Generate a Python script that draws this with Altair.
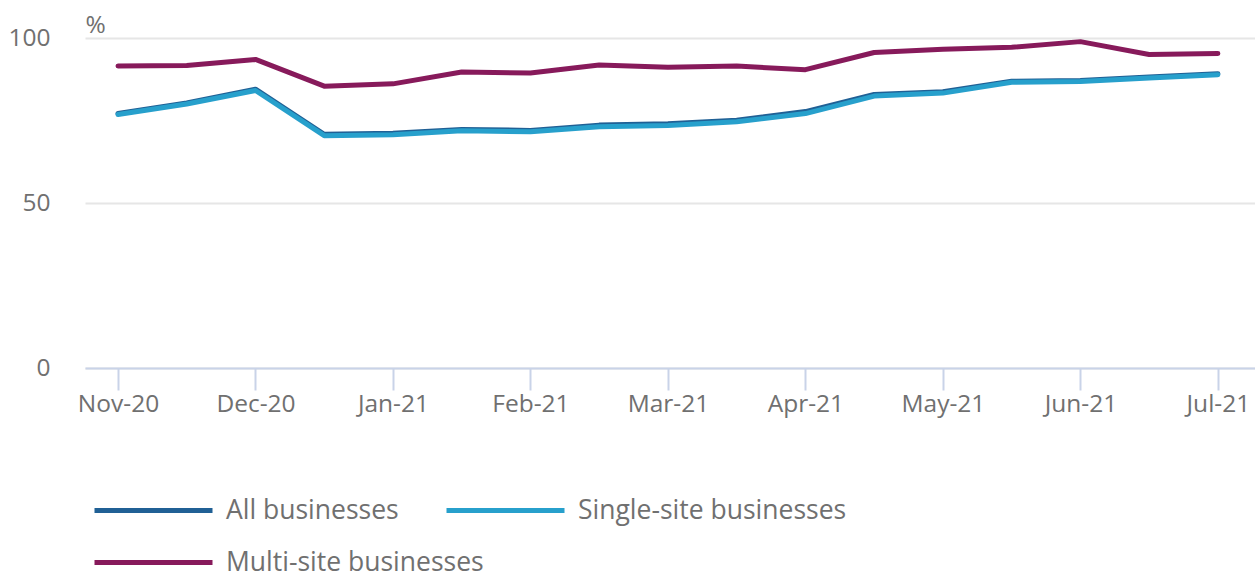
import altair as alt
import pandas as pd

tick_labels = ["Nov-20", "Dec-20", "Jan-21", "Feb-21", "Mar-21", "Apr-21", "May-21", "Jun-21", "Jul-21"]
period_index = list(range(17))

all_businesses = [77.1, 80.3, 84.5, 70.8, 71.1, 72.3, 72.0, 73.6, 74.0, 75.1, 77.7, 82.9, 83.7, 86.9, 87.1, 88.2, 89.2]
single_site = [76.8, 80.0, 84.1, 70.4, 70.7, 71.9, 71.6, 73.1, 73.5, 74.6, 77.1, 82.4, 83.3, 86.6, 86.8, 87.9, 88.9]
multi_site = [91.5, 91.7, 93.5, 85.4, 86.1, 89.7, 89.4, 91.8, 91.1, 91.5, 90.4, 95.6, 96.6, 97.2, 98.9, 95.0, 95.3]

series_names = ["All businesses", "Single-site businesses", "Multi-site businesses"]
series_colors = ["#206095", "#27a0cc", "#871a5b"]

rows = []
for order, (name, vals) in enumerate(zip(series_names, [all_businesses, single_site, multi_site])):
    for i, v in zip(period_index, vals):
        rows.append({"series": name, "idx": i, "value": v, "order": order})
df = pd.DataFrame(rows)

label_js = "[" + ",".join(f"'{t}'" for t in tick_labels) + "]"

FONT = "Open Sans"
GREY = "#707070"

chart = alt.Chart(df).mark_line(strokeWidth=5, strokeCap="round", strokeJoin="round").encode(
    x=alt.X("idx:Q",
            scale=alt.Scale(domain=[-0.48, 16.54], nice=False, zero=False),
            axis=alt.Axis(values=list(range(0, 17, 2)), labelExpr=f"{label_js}[datum.value/2]",
                          title=None, grid=False, tickSize=22, tickWidth=2, tickColor="#c9d3e8",
                          domainColor="#c9d3e8", domainWidth=2, labelFontSize=24.5, labelColor=GREY,
                          labelFont=FONT, labelPadding=2)),
    y=alt.Y("value:Q",
            scale=alt.Scale(domain=[0, 100], nice=False),
            axis=alt.Axis(values=[0, 50, 100], title="%", titleAngle=0, titleAlign="left",
                          titleX=0, titleY=-6, titleBaseline="alphabetic", titleFontWeight="normal",
                          titleFontSize=24.5, titleColor=GREY, titleFont=FONT,
                          domain=False, ticks=False, gridColor="#e6e6e6", gridWidth=2,
                          labelFontSize=24.5, labelColor=GREY, labelFont=FONT, labelPadding=35)),
    color=alt.Color("series:N",
                    scale=alt.Scale(domain=series_names, range=series_colors),
                    sort=series_names,
                    legend=alt.Legend(title=None, orient="none", legendX=7, legendY=411,
                                      direction="horizontal", columns=2, gridAlign="none",
                                      symbolType="stroke", symbolStrokeWidth=5, symbolSize=13924,
                                      labelFontSize=26.5, labelColor=GREY, labelFont=FONT,
                                      labelLimit=500, labelOffset=11, columnPadding=-48,
                                      rowPadding=-23)),
    order=alt.Order("order:Q"),
    detail="series:N",
).properties(
    width=1170, height=330,
    autosize=alt.AutoSizeParams(type="none"),
    padding={"left": 85, "top": 38, "right": 0, "bottom": 207},
).configure_view(stroke=None).configure_legend(gridAlign="none")

chart.save("out.html", embed_options={"renderer": "svg", "actions": False})
